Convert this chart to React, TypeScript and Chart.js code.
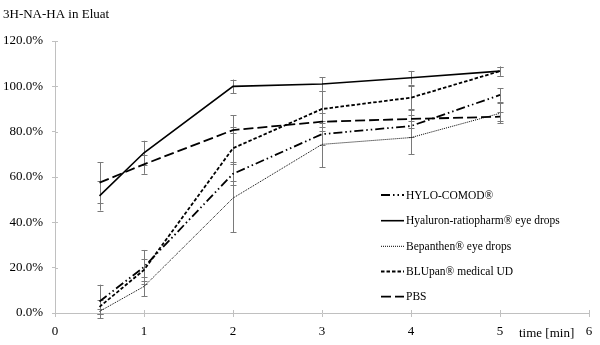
import React, { useEffect, useRef } from "react";
import { Chart, registerables } from "chart.js";

Chart.register(...registerables);

const times = [0.5, 1, 2, 3, 4, 5];
const seriesLabels = [
  "HYLO-COMOD®",
  "Hyaluron-ratiopharm® eye drops",
  "Bepanthen® eye drops",
  "BLUpan® medical UD",
  "PBS",
];
const hyloValues = [5.1, 20.3, 61.4, 78.9, 82.5, 96.2];
const hyloErrors = [7.4, 7.5, 5, 5, 5, 3];
const hyaluronValues = [51.7, 70.7, 100.0, 101.0, 103.8, 106.7];
const hyaluronErrors = [6.5, 5.3, 3, 3, 3, 2];
const bepanthenValues = [0.7, 11.7, 50.7, 74.4, 77.4, 88.1];
const bepanthenErrors = [1, 4.4, 15, 10.2, 7.4, 4.4];
const blupanValues = [2.7, 19.0, 72.7, 90.0, 95.0, 106.7];
const blupanErrors = [3, 5, 14.6, 8, 5, 2];
const pbsValues = [57.5, 65.6, 80.7, 84.4, 85.6, 86.6];
const pbsErrors = [9, 4.2, 1.5, 4, 4, 2];
const yTicks = [0, 20, 40, 60, 80, 100, 120];
const xTicks = [0, 1, 2, 3, 4, 5, 6];
const titleText = "3H-NA-HA in Eluat";
const xTitleText = "time [min]";

const FONT = "'Liberation Serif', 'Times New Roman', serif";
const AXIS_COLOR = "#c0c0c0";
const ERR_COLOR = "#7a7a7a";

const toPoints = (vals: number[]) => vals.map((v, i) => ({ x: times[i], y: v }));

const errorBarsPlugin = {
  id: "errorBars",
  beforeDatasetsDraw(chart: any) {
    const { ctx } = chart;
    const xs = chart.scales.x;
    const ys = chart.scales.y;
    ctx.save();
    ctx.strokeStyle = ERR_COLOR;
    ctx.lineWidth = 1;
    ctx.setLineDash([]);
    chart.data.datasets.forEach((ds: any) => {
      const errs: number[] = ds.errors || [];
      ds.data.forEach((p: any, i: number) => {
        const e = errs[i];
        if (e == null) return;
        const x = Math.round(xs.getPixelForValue(p.x)) + 0.5;
        const y1 = ys.getPixelForValue(p.y - e);
        const y2 = ys.getPixelForValue(p.y + e);
        ctx.beginPath();
        ctx.moveTo(x, y1);
        ctx.lineTo(x, y2);
        ctx.moveTo(x - 3, Math.round(y1) + 0.5);
        ctx.lineTo(x + 3, Math.round(y1) + 0.5);
        ctx.moveTo(x - 3, Math.round(y2) + 0.5);
        ctx.lineTo(x + 3, Math.round(y2) + 0.5);
        ctx.stroke();
      });
    });
    ctx.restore();
  },
};

const decorPlugin = {
  id: "decor",
  afterDraw(chart: any) {
    const { ctx } = chart;
    const xs = chart.scales.x;
    const ys = chart.scales.y;
    const area = chart.chartArea;
    ctx.save();
    ctx.strokeStyle = AXIS_COLOR;
    ctx.lineWidth = 1;
    ctx.beginPath();
    xs.ticks.forEach((t: any) => {
      const x = Math.round(xs.getPixelForValue(t.value)) + 0.5;
      ctx.moveTo(x, area.bottom);
      ctx.lineTo(x, area.bottom - 3);
    });
    ys.ticks.forEach((t: any) => {
      const y = Math.round(ys.getPixelForValue(t.value)) + 0.5;
      ctx.moveTo(area.left, y);
      ctx.lineTo(area.left + 3, y);
    });
    ctx.stroke();

    ctx.fillStyle = "#000";
    ctx.font = `13px ${FONT}`;
    ctx.textBaseline = "middle";
    ctx.textAlign = "left";
    ctx.fillText(titleText, 3, 15);

    ctx.fillText(xTitleText, 519, 334);

    const lx = 381;
    const ly = [195, 220.7, 246.3, 271.5, 296.7];
    ctx.font = `11.5px ${FONT}`;
    chart.data.datasets.forEach((ds: any, i: number) => {
      const y = ly[i];
      ctx.save();
      ctx.strokeStyle = ds.borderColor;
      ctx.lineWidth = ds.borderWidth;
      ctx.setLineDash(ds.borderDash || []);
      ctx.beginPath();
      ctx.moveTo(lx, y);
      ctx.lineTo(lx + 23, y);
      ctx.stroke();
      ctx.restore();
      ctx.fillStyle = "#000";
      ctx.fillText(ds.label, lx + 25, y + 0.5);
    });
    ctx.restore();
  },
};

export default function App() {
  const ref = useRef<HTMLCanvasElement>(null);

  useEffect(() => {
    if (!ref.current) return;
    const mk = (label: string, vals: number[], errs: number[], dash: number[], width: number) => ({
      label,
      data: toPoints(vals),
      errors: errs,
      borderColor: "#000",
      backgroundColor: "#000",
      borderWidth: width,
      borderDash: dash,
      pointRadius: 0,
      tension: 0,
      fill: false,
    });
    const chart = new Chart(ref.current, {
      type: "line",
      data: {
        datasets: [
          mk(seriesLabels[0], hyloValues, hyloErrors, [9, 3, 1.5, 3, 1.5, 3], 1.8),
          mk(seriesLabels[1], hyaluronValues, hyaluronErrors, [], 1.6),
          mk(seriesLabels[2], bepanthenValues, bepanthenErrors, [1, 1], 1),
          mk(seriesLabels[3], blupanValues, blupanErrors, [3.5, 2], 1.8),
          mk(seriesLabels[4], pbsValues, pbsErrors, [10, 4], 1.8),
        ] as any,
      },
      options: {
        animation: false,
        responsive: false,
        maintainAspectRatio: false,
        layout: { padding: { top: 41, right: 11, left: 0, bottom: 0 } },
        plugins: {
          legend: { display: false },
          title: { display: false },
          tooltip: { enabled: false },
        },
        scales: {
          x: {
            type: "linear",
            min: 0,
            max: 6,
            afterBuildTicks: (s: any) => {
              s.ticks = xTicks.map((v) => ({ value: v }));
            },
            afterFit: (s: any) => {
              s.height = 32;
            },
            ticks: {
              color: "#000",
              font: { family: FONT, size: 13 },
              padding: 7,
              maxRotation: 0,
              callback: (v: any) => String(v),
            },
            grid: {
              display: true,
              drawOnChartArea: false,
              drawTicks: true,
              tickLength: 4,
              color: AXIS_COLOR,
            },
            border: { display: true, color: AXIS_COLOR },
          },
          y: {
            type: "linear",
            min: 0,
            max: 120,
            afterBuildTicks: (s: any) => {
              s.ticks = yTicks.map((v) => ({ value: v }));
            },
            afterFit: (s: any) => {
              s.width = 55;
            },
            ticks: {
              color: "#000",
              font: { family: FONT, size: 13 },
              padding: 9,
              callback: (v: any) => Number(v).toFixed(1) + "%",
            },
            grid: {
              display: true,
              drawOnChartArea: false,
              drawTicks: true,
              tickLength: 3,
              color: AXIS_COLOR,
            },
            border: { display: true, color: AXIS_COLOR },
          },
        },
      } as any,
      plugins: [errorBarsPlugin, decorPlugin],
    });
    return () => chart.destroy();
  }, []);

  return (
    <div style={{ position: "fixed", left: 0, top: 0, width: 600, height: 345, background: "#fff" }}>
      <canvas ref={ref} width={600} height={345} style={{ display: "block" }} />
    </div>
  );
}
